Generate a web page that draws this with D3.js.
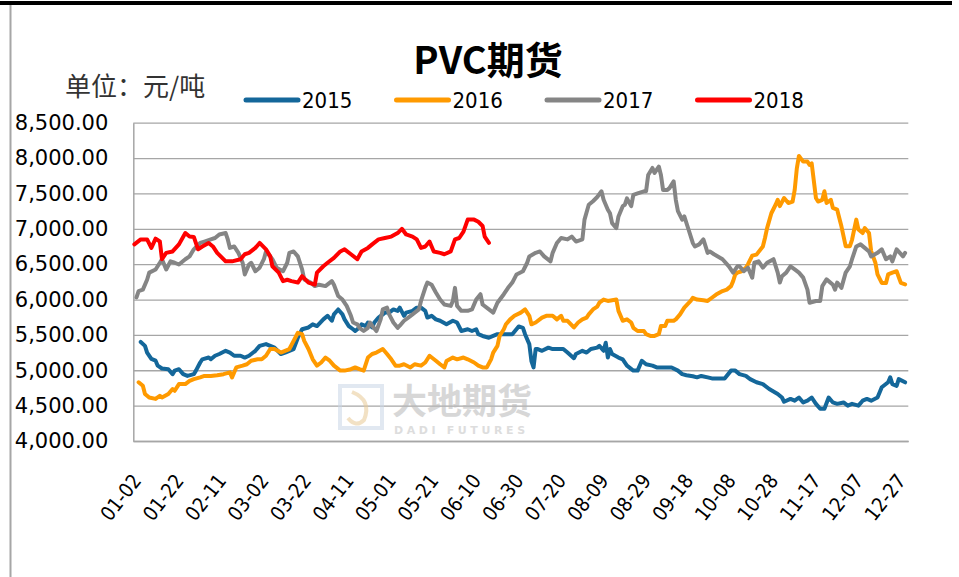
<!DOCTYPE html>
<html><head><meta charset="utf-8">
<script src="https://cdn.jsdelivr.net/npm/d3@7"></script>
<style>
html,body{margin:0;padding:0;background:#fff;}
svg{display:block;}
</style></head>
<body>
<script>
// ---------------- DATA ----------------
const title = "PVC期货";
const unitLabel = "单位：元/吨";
const seriesNames = ["2015", "2016", "2017", "2018"];
const seriesColors = ["#14679a", "#ff9a00", "#858585", "#ff0000"];
const yTicks = [4000, 4500, 5000, 5500, 6000, 6500, 7000, 7500, 8000, 8500];
const tickLabels = ["01-02","01-22","02-11","03-02","03-22","04-11","05-01","05-21","06-10","06-30","07-20","08-09","08-29","09-18","10-08","10-28","11-17","12-07","12-27"];

const dates2015 = ["01-05","01-07","01-08","01-10","01-12","01-13","01-15","01-18","01-20","01-21","01-23","01-25","01-27","01-30","01-31","02-02","02-03","02-06","02-07","02-09","02-11","02-14","02-16","02-18","02-21","02-23","02-25","02-28","03-01","03-04","03-06","03-08","03-11","03-13","03-15","03-17","03-19","03-21","03-24","03-26","03-28","03-31","04-02","04-04","04-05","04-07","04-09","04-10","04-12","04-14","04-15","04-17","04-18","04-20","04-21","04-23","04-24","04-26","04-28","04-29","05-01","05-03","05-05","05-06","05-08","05-09","05-12","05-14","05-16","05-18","05-19","05-21","05-23","05-25","05-28","05-31","06-02","06-04","06-07","06-09","06-11","06-12","06-14","06-17","06-19","06-21","06-24","06-26","06-28","07-01","07-03","07-04","07-06","07-07","07-08","07-09","07-10","07-12","07-15","07-17","07-20","07-22","07-24","07-27","07-28","07-31","08-02","08-04","08-07","08-08","08-10","08-11","08-12","08-13","08-14","08-17","08-19","08-21","08-24","08-26","08-28","08-30","09-02","09-04","09-06","09-09","09-11","09-14","09-16","09-18","09-21","09-23","09-25","09-28","09-30","10-03","10-06","10-09","10-11","10-13","10-16","10-18","10-21","10-24","10-27","10-31","11-02","11-03","11-06","11-08","11-10","11-12","11-14","11-16","11-18","11-20","11-22","11-24","11-26","11-28","12-01","12-03","12-05","12-08","12-10","12-12","12-14","12-17","12-19","12-22","12-23","12-24","12-26","12-27","12-30"];
const values2015 = [5400,5345,5250,5160,5135,5065,5025,5015,4945,4995,5015,4945,4920,4945,4995,5110,5155,5180,5155,5205,5230,5275,5250,5205,5205,5180,5205,5275,5345,5370,5345,5320,5230,5250,5275,5300,5460,5580,5605,5650,5625,5720,5770,5700,5790,5860,5790,5720,5625,5580,5555,5605,5650,5625,5675,5605,5675,5745,5790,5815,5815,5860,5840,5885,5770,5815,5840,5885,5885,5840,5745,5770,5720,5700,5650,5700,5675,5555,5580,5555,5580,5510,5485,5460,5485,5510,5510,5510,5510,5620,5600,5510,5370,5130,5040,5300,5300,5275,5320,5300,5300,5300,5250,5170,5230,5275,5250,5300,5320,5345,5275,5390,5180,5300,5230,5180,5155,5065,4995,4995,5135,5085,5065,5040,5040,5040,5040,4995,4945,4930,4915,4900,4920,4900,4885,4885,4885,4995,4995,4945,4920,4875,4830,4805,4735,4665,4615,4555,4595,4570,4615,4545,4570,4615,4525,4455,4455,4615,4545,4525,4545,4500,4525,4500,4570,4595,4570,4615,4760,4830,4900,4805,4780,4875,4830];

const dates2016 = ["01-04","01-06","01-07","01-09","01-12","01-14","01-15","01-18","01-20","01-21","01-23","01-26","01-28","01-30","02-02","02-04","02-07","02-10","02-13","02-16","02-17","02-19","02-22","02-24","02-26","02-29","03-02","03-04","03-06","03-08","03-11","03-13","03-15","03-17","03-19","03-21","03-22","03-24","03-26","03-28","03-30","04-01","04-03","04-05","04-08","04-10","04-13","04-15","04-17","04-19","04-21","04-23","04-25","04-28","04-30","05-02","05-04","05-06","05-08","05-11","05-13","05-16","05-18","05-20","05-23","05-25","05-27","05-28","05-31","06-02","06-05","06-07","06-10","06-12","06-14","06-16","06-18","06-19","06-21","06-22","06-24","06-25","06-27","06-29","07-02","07-04","07-06","07-07","07-09","07-12","07-14","07-17","07-19","07-21","07-22","07-24","07-27","07-29","07-31","08-02","08-03","08-05","08-07","08-08","08-10","08-12","08-14","08-16","08-17","08-19","08-21","08-23","08-24","08-26","08-29","08-30","09-01","09-03","09-05","09-06","09-08","09-09","09-12","09-13","09-15","09-17","09-20","09-21","09-23","09-26","09-28","09-30","10-02","10-05","10-07","10-09","10-10","10-11","10-12","10-14","10-16","10-17","10-19","10-21","10-24","10-25","10-26","10-28","10-30","10-31","11-01","11-03","11-05","11-07","11-08","11-09","11-10","11-12","11-14","11-15","11-16","11-18","11-19","11-21","11-22","11-23","11-25","11-26","11-28","11-30","12-02","12-04","12-05","12-07","12-08","12-10","12-11","12-13","12-14","12-16","12-17","12-19","12-21","12-22","12-24","12-26","12-28","12-30"];
const values2016 = [4830,4780,4665,4615,4595,4640,4615,4665,4735,4710,4805,4805,4850,4875,4900,4920,4920,4930,4945,4970,4900,5040,5065,5085,5135,5155,5155,5205,5300,5300,5250,5275,5300,5415,5530,5510,5415,5300,5155,5065,5110,5180,5135,5065,4995,4995,5015,5040,5015,4995,5180,5230,5250,5300,5230,5155,5065,5065,5085,5040,5085,5065,5110,5205,5135,5085,5040,5130,5180,5155,5180,5155,5110,5065,5040,5040,5155,5250,5345,5485,5580,5650,5720,5770,5815,5860,5770,5650,5675,5745,5770,5770,5720,5770,5700,5700,5605,5675,5720,5745,5790,5860,5900,5955,6000,5980,5990,6000,5840,5700,5720,5675,5600,5555,5555,5510,5485,5485,5510,5625,5625,5700,5700,5720,5790,5885,5980,6025,6000,5990,5980,6025,6070,6120,6140,6190,6260,6355,6380,6400,6450,6500,6620,6635,6750,6870,7010,7220,7340,7410,7320,7435,7365,7385,7550,7855,8030,7950,7950,7905,7925,7435,7385,7410,7530,7365,7410,7295,7270,7035,6755,6755,6845,7130,6990,6940,7010,6940,6685,6520,6355,6235,6235,6355,6380,6400,6235,6215];

const dates2017 = ["01-03","01-04","01-06","01-08","01-09","01-12","01-14","01-15","01-17","01-19","01-21","01-23","01-26","01-28","01-30","02-02","02-04","02-07","02-09","02-11","02-14","02-15","02-16","02-18","02-20","02-22","02-23","02-25","02-26","02-28","03-01","03-03","03-04","03-06","03-07","03-09","03-12","03-14","03-15","03-17","03-19","03-21","03-22","03-25","03-27","03-29","04-01","04-04","04-05","04-07","04-09","04-11","04-13","04-14","04-16","04-17","04-19","04-21","04-22","04-23","04-25","04-27","04-28","04-30","05-01","05-03","05-05","05-06","05-08","05-10","05-12","05-15","05-16","05-18","05-19","05-21","05-23","05-25","05-27","05-30","05-31","06-01","06-02","06-04","06-07","06-09","06-11","06-13","06-14","06-17","06-19","06-21","06-24","06-26","06-28","06-30","07-03","07-05","07-06","07-09","07-11","07-13","07-16","07-17","07-19","07-21","07-24","07-26","07-28","07-31","08-01","08-03","08-05","08-07","08-09","08-10","08-12","08-13","08-14","08-16","08-17","08-19","08-20","08-21","08-23","08-24","08-26","08-29","08-30","08-31","09-02","09-03","09-05","09-06","09-07","09-09","09-10","09-12","09-13","09-14","09-16","09-17","09-19","09-21","09-22","09-24","09-26","09-28","09-29","10-01","10-05","10-08","10-10","10-12","10-13","10-15","10-17","10-19","10-20","10-22","10-24","10-26","10-29","10-31","11-01","11-02","11-04","11-06","11-08","11-10","11-12","11-14","11-15","11-18","11-20","11-21","11-23","11-26","11-27","11-28","11-30","12-02","12-04","12-05","12-07","12-09","12-11","12-13","12-14","12-17","12-19","12-21","12-23","12-24","12-26","12-29","12-30"];
const values2017 = [6030,6120,6140,6280,6380,6425,6520,6570,6425,6540,6520,6495,6570,6610,6710,6800,6820,6850,6870,6920,6940,6850,6730,6750,6660,6520,6355,6495,6520,6400,6450,6570,6680,6610,6570,6450,6400,6520,6660,6680,6610,6425,6285,6240,6190,6210,6190,6260,6210,6050,6000,5910,5770,5675,5650,5600,5555,5600,5675,5630,5555,5720,5860,5885,5790,5675,5600,5630,5700,5745,5790,5860,5980,6165,6240,6210,6100,6000,5930,5910,5980,6165,5910,5840,5840,5860,6000,6075,5930,5860,5815,5955,6075,6165,6240,6355,6400,6520,6610,6660,6680,6610,6540,6660,6800,6870,6850,6890,6820,6850,7130,7340,7390,7450,7530,7410,7270,7220,7080,7010,7175,7320,7340,7430,7320,7480,7500,7530,7530,7760,7860,7790,7880,7760,7550,7550,7575,7670,7410,7250,7130,7175,6990,6800,6750,6780,6850,6660,6680,6640,6570,6470,6380,6470,6470,6400,6450,6310,6520,6540,6450,6520,6570,6380,6240,6330,6380,6470,6425,6380,6310,6140,5955,5980,5980,6190,6285,6210,6140,6240,6165,6380,6470,6570,6750,6780,6730,6680,6610,6660,6710,6570,6610,6540,6710,6610,6660];

const dates2018 = ["01-02","01-05","01-08","01-10","01-12","01-14","01-15","01-17","01-20","01-23","01-26","01-28","01-30","02-01","02-03","02-06","02-08","02-10","02-14","02-17","02-21","02-23","02-25","02-28","03-01","03-04","03-06","03-07","03-10","03-12","03-14","03-16","03-19","03-21","03-24","03-27","03-28","03-31","04-02","04-05","04-08","04-10","04-13","04-16","04-18","04-21","04-23","04-26","04-29","05-02","05-05","05-07","05-09","05-12","05-14","05-16","05-18","05-20","05-22","05-25","05-27","05-30","06-01","06-03","06-05","06-07","06-10","06-12","06-14","06-15","06-17"];
const values2018 = [6780,6850,6850,6730,6860,6820,6570,6660,6680,6780,6940,6890,6885,6710,6750,6800,6750,6660,6540,6540,6570,6640,6660,6730,6800,6710,6610,6470,6380,6260,6280,6260,6240,6330,6240,6210,6380,6470,6520,6590,6680,6710,6640,6570,6680,6730,6780,6850,6870,6890,6940,7000,6920,6890,6850,6730,6750,6820,6680,6660,6640,6680,6850,6870,6960,7130,7130,7100,7040,6890,6800];

// ---------------- CHART ----------------
const W = 959, H = 577;
const plot = {left: 133.3, right: 908.3, top: 122.7, bottom: 441};
const fmt = d3.timeFormat("%m-%d");
const categories = d3.timeDay.range(new Date(2016, 0, 2), new Date(2017, 0, 1)).map(fmt);

const svg = d3.select("body").append("svg").attr("width", W).attr("height", H);

// outer frame
svg.append("line").attr("x1", 0).attr("x2", 952).attr("y1", 3).attr("y2", 3)
  .attr("stroke", "#000").attr("stroke-width", 4);
svg.append("line").attr("x1", 10.5).attr("x2", 10.5).attr("y1", 5).attr("y2", H)
  .attr("stroke", "#a6a6a6").attr("stroke-width", 2);

const x = d3.scaleBand().domain(categories).range([plot.left, plot.right]);
const xc = d => x(d) + x.bandwidth() / 2;
const y = d3.scaleLinear().domain([4000, 8500]).range([plot.bottom, plot.top]);

// gridlines
svg.append("g").attr("transform", `translate(${plot.left},0)`)
  .call(d3.axisLeft(y).tickValues(yTicks).tickSize(-(plot.right - plot.left)).tickFormat(""))
  .call(g => g.select(".domain").remove())
  .call(g => g.selectAll("line").attr("stroke", "#a6a6a6").attr("stroke-width", 1.3));

// y axis labels
svg.append("g").attr("transform", `translate(${plot.left},0)`)
  .call(d3.axisLeft(y).tickValues(yTicks).tickSize(0).tickPadding(25).tickFormat(d3.format(",.2f")))
  .call(g => g.select(".domain").attr("stroke", "#a6a6a6").attr("stroke-width", 1.5))
  .call(g => g.selectAll("text").attr("font-family", "DejaVu Sans").attr("font-size", 21).attr("fill", "#000"));

// x axis
svg.append("g").attr("transform", `translate(0,${plot.bottom})`)
  .call(d3.axisBottom(x).tickValues(tickLabels).tickSize(0).tickPadding(0))
  .call(g => g.select(".domain").attr("stroke", "#a6a6a6").attr("stroke-width", 1.5))
  .call(g => g.selectAll("text")
    .attr("font-family", "DejaVu Sans Condensed, DejaVu Sans").attr("font-size", 20).attr("fill", "#000")
    .attr("text-anchor", "end").attr("dy", "0")
    .attr("transform", "translate(8,40) rotate(-52)"));

// watermark
const wm = svg.append("g").attr("opacity", 0.55);
wm.append("path").attr("d", "M340,386 L382,386 L382,428 L340,428 Z").attr("fill", "none").attr("stroke", "#c9d6e6").attr("stroke-width", 4);
wm.append("path").attr("d", "M352,392 Q372,400 364,420 Q356,428 348,418").attr("fill", "none").attr("stroke", "#e8c995").attr("stroke-width", 4);
wm.append("text").attr("x", 392).attr("y", 414).attr("font-family", "Noto Sans CJK SC").attr("font-weight", "bold")
  .attr("font-size", 35).attr("fill", "#b8b8b8").text("大地期货");
wm.append("text").attr("x", 394).attr("y", 434).attr("font-family", "DejaVu Sans").attr("font-weight", "bold")
  .attr("font-size", 11).attr("letter-spacing", 3.6).attr("fill", "#c2c2c2").text("DADI FUTURES");

// series
const allSeries = [
  {name: seriesNames[0], dates: dates2015, values: values2015, color: seriesColors[0]},
  {name: seriesNames[1], dates: dates2016, values: values2016, color: seriesColors[1]},
  {name: seriesNames[2], dates: dates2017, values: values2017, color: seriesColors[2]},
  {name: seriesNames[3], dates: dates2018, values: values2018, color: seriesColors[3]},
];
const line = d3.line().x(d => xc(d[0])).y(d => y(d[1])).curve(d3.curveLinear);
allSeries.forEach(s => {
  svg.append("path").datum(s.dates.map((d, i) => [d, s.values[i]]))
    .attr("d", line).attr("fill", "none").attr("stroke", s.color)
    .attr("stroke-width", 4).attr("stroke-linejoin", "round").attr("stroke-linecap", "round");
});

// title
svg.append("text").attr("x", 488).attr("y", 74).attr("text-anchor", "middle")
  .attr("font-family", "Noto Sans CJK SC").attr("font-weight", "bold").attr("font-size", 38)
  .attr("fill", "#000").text(title);

// unit
svg.append("text").attr("x", 65).attr("y", 96)
  .attr("font-family", "Noto Sans CJK SC").attr("font-size", 26).attr("fill", "#333").text(unitLabel);

// legend
const legend = svg.append("g");
allSeries.forEach((s, i) => {
  const lx = 246 + i * 150.5;
  legend.append("line").attr("x1", lx).attr("x2", lx + 52).attr("y1", 100).attr("y2", 100)
    .attr("stroke", s.color).attr("stroke-width", 5).attr("stroke-linecap", "round");
  legend.append("text").attr("x", lx + 56).attr("y", 108)
    .attr("font-family", "DejaVu Sans Condensed, DejaVu Sans").attr("font-size", 22).attr("fill", "#000").text(s.name);
});
</script>
</body></html>
